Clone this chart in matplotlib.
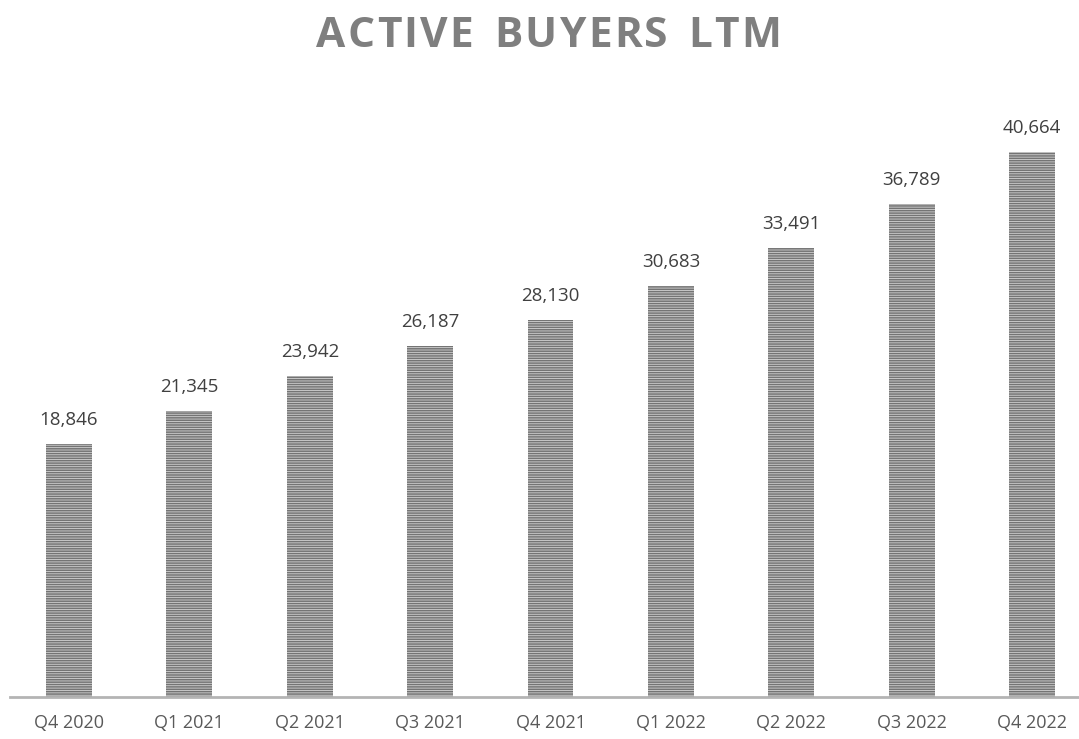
import matplotlib
matplotlib.use("Agg")
import matplotlib.pyplot as plt

categories = ["Q4 2020", "Q1 2021", "Q2 2021", "Q3 2021", "Q4 2021",
              "Q1 2022", "Q2 2022", "Q3 2022", "Q4 2022"]
values = [18846, 21345, 23942, 26187, 28130, 30683, 33491, 36789, 40664]
title = "ACTIVE BUYERS LTM"

plt.rcParams['hatch.linewidth'] = 1.1
plt.rcParams['hatch.color'] = '#747474'

fig = plt.figure(figsize=(10.79, 7.39), dpi=100)
W, H = 1079, 739
ax = fig.add_axes([10 / W, 42 / H, 1 - 10 / W, (697 - 94) / H])

x = list(range(len(categories)))
ax.bar(x, values, width=0.38, color='#d2d2d2', edgecolor='#747474',
       linewidth=0, hatch='-' * 7)
for xi, v in zip(x, values):
    ax.annotate(f"{v:,}", (xi, v), xytext=(0, 11), textcoords='offset points',
                ha='center', va='bottom', fontsize=13.5, color='#404040',
                family='Open Sans')

ax.set_xlim(-0.49, 8.39)
ax.set_ylim(0, 45000)
ax.set_xticks(x)
ax.set_xticklabels(categories, fontsize=13, color='#595959', family='Open Sans')
ax.tick_params(axis='x', length=0, pad=12)
ax.set_yticks([])
for s in ['top', 'right', 'left']:
    ax.spines[s].set_visible(False)
ax.spines['bottom'].set_color('#b4b4b4')
ax.spines['bottom'].set_linewidth(2)

# Title with letter spacing, spanning roughly x=316..781 px
renderer = fig.canvas.get_renderer()
tkw = dict(fontsize=30.5, fontweight='bold', color='#7f7f7f', family='Open Sans',
           va='baseline', ha='left')
widths = {}
for ch in set(title.replace(' ', '')):
    t = fig.text(0, 0, ch, **tkw)
    widths[ch] = t.get_window_extent(renderer).width
    t.remove()
words = title.split(' ')
word_gap = 21
target_left, target_right = 316, 781
letters_w = sum(widths[c] for c in title if c != ' ')
pairs = sum(len(w) - 1 for w in words)
gap = (target_right - target_left - letters_w - word_gap * (len(words) - 1)) / pairs
xp = target_left
for wi, word in enumerate(words):
    for ci, ch in enumerate(word):
        fig.text(xp / W, 1 - 47 / H, ch, **tkw)
        xp += widths[ch] + (gap if ci < len(word) - 1 else 0)
    xp += word_gap

fig.savefig("out.png", dpi=100)
